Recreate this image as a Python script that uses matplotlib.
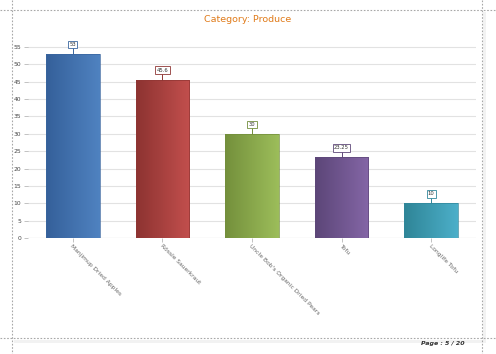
import matplotlib.pyplot as plt
import matplotlib.colors as mcolors
import numpy as np

products = ['Manjimup Dried Apples', 'Rössle Sauerkraut', "Uncle Bob's Organic Dried Pears",
            'Tofu', 'Longlife Tofu']
prices = [53, 45.6, 30, 23.25, 10]
value_labels = ['53', '45.6', '30', '23.25', '10']
yticks = [0, 5, 10, 15, 20, 25, 30, 35, 40, 45, 50, 55]

dark = ['#35609a', '#8d3331', '#74903c', '#5c4678', '#2f8597']
light = ['#4f82c0', '#c24f4d', '#9cbd5a', '#8466a6', '#4cafc9']
edges = ['#3a669f', '#8f3634', '#738e3c', '#5e4879', '#31879b']

fig = plt.figure(figsize=(4.96, 3.54), dpi=100)
W, H = 496, 354

# page frame (dashed crop lines)
bg = fig.add_axes([0, 0, 1, 1])
bg.set_xlim(0, W)
bg.set_ylim(H, 0)
bg.axis('off')
bg.fill_between([14, 486], 340, 343, color='#f2f2f2', lw=0)
bg.fill_between([483, 486], 12, 343, color='#f2f2f2', lw=0)
for y in (10, 338):
    bg.plot([0, W], [y, y], ls=(0, (1.5, 1.5)), color='#a8a8a8', lw=0.8)
for x in (12, 482):
    bg.plot([x, x], [0, H], ls=(0, (1.5, 1.5)), color='#a8a8a8', lw=0.8)
bg.text(465, 343, 'Page : 5 / 20', fontsize=4.5, style='italic', fontweight='bold',
        ha='right', va='center', color='#333333')
bg.text(248, 19, 'Category: Produce', fontsize=6.8, ha='center', va='center', color='#e07b1a')

# plot area: x 28..476, y 0 -> 238, 55 -> 47
left, right = 28, 476
y0, y55 = 238, 47
ppu = (y0 - y55) / 55
ymax = 55 + (y55 - 40) / ppu
ax = fig.add_axes([left / W, 1 - y0 / H, (right - left) / W, (y0 - 40) / H])
ax.set_xlim(-0.5, 4.5)
ax.set_ylim(0, ymax)
ax.patch.set_alpha(0)
for s in ax.spines.values():
    s.set_visible(False)
ax.set_yticks(yticks)
ax.yaxis.grid(True, color='#e2e2e2', lw=0.8)
ax.set_axisbelow(True)
ax.axhline(0, color='#cccccc', lw=0.8, zorder=1)
ax.tick_params(axis='y', length=3, width=0.5, color='#aaaaaa', labelsize=4.3,
               labelcolor='#444444', pad=2)
ax.tick_params(axis='x', length=3, width=0.5, color='#aaaaaa', labelsize=4.3,
               labelcolor='#666666', pad=1)
ax.set_xticks(range(len(products)))
ax.set_xticklabels(products, rotation=-45, ha='left', va='top', rotation_mode='anchor')

bars = ax.bar(range(len(products)), prices, width=0.6, zorder=2)
grad = np.linspace(0, 1, 64).reshape(1, -1)
for i, b in enumerate(bars):
    b.set_facecolor('none')
    b.set_edgecolor(edges[i])
    b.set_linewidth(0.5)
    cmap = mcolors.LinearSegmentedColormap.from_list('g%d' % i, [dark[i], light[i]])
    x0 = b.get_x()
    im = ax.imshow(grad, cmap=cmap, aspect='auto', zorder=1.9,
                   extent=[x0, x0 + b.get_width(), 0, b.get_height()])
    im.set_clip_path(b)
    # value label with leader line
    top = b.get_height()
    cx = x0 + b.get_width() / 2
    ax.plot([cx, cx], [top, top + 1.6], color=edges[i], lw=0.7, zorder=3)
    ax.text(cx, top + 2.7, value_labels[i], fontsize=3.8, ha='center', va='center',
            color='#333333', zorder=4, clip_on=False,
            bbox=dict(boxstyle='square,pad=0.25', fc='white', ec=edges[i], lw=0.6))
ax.set_xlim(-0.5, 4.5)
ax.set_ylim(0, ymax)

fig.savefig('out.png', dpi=100)
